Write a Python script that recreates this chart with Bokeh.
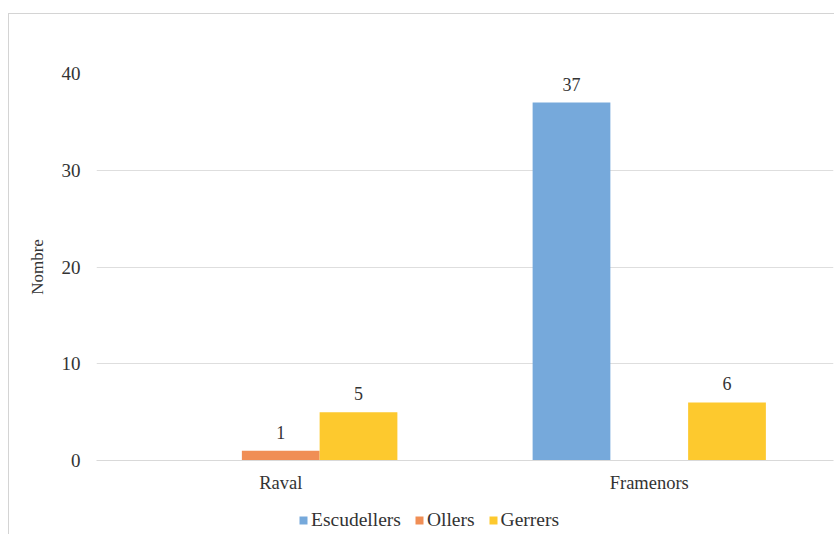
from bokeh.plotting import figure
from bokeh.layouts import column
from bokeh.models import FactorRange, Range1d, ColumnDataSource, Legend, LegendItem, FixedTicker
from bokeh.transform import dodge
from bokeh.embed import file_html
from bokeh.resources import INLINE
from bokeh.core.properties import value

categories = ["Raval", "Framenors"]
series_names = ["Escudellers", "Ollers", "Gerrers"]
escudellers = [0, 37]
ollers = [1, 0]
gerrers = [5, 6]
y_ticks = [0, 10, 20, 30, 40]
colors = ["#76A9DB", "#F08E55", "#FDC92E"]
y_label = "Nombre"

FONT = "Liberation Serif"
TEXT = "#333333"
BORDER = "1px solid #d4d4d4"

series_vals = [escudellers, ollers, gerrers]
data = dict(cat=categories)
for name, vals in zip(series_names, series_vals):
    data[name] = vals
    data[name + "_lbl"] = [str(v) if v else "" for v in vals]
src = ColumnDataSource(data)

p = figure(
    x_range=FactorRange(*categories, range_padding=0),
    y_range=Range1d(0, 40),
    width=826, height=481,
    output_backend="svg", toolbar_location=None,
    min_border_left=87, min_border_right=2, min_border_top=59, min_border_bottom=27,
)
p.outline_line_color = None
p.background_fill_color = "white"
p.border_fill_color = "white"

bw = 0.211
offsets = [-bw, 0.0, bw]
for name, off, col in zip(series_names, offsets, colors):
    p.vbar(x=dodge("cat", off, range=p.x_range), top=name, width=bw, source=src,
           fill_color=col, line_color=None)
    p.text(x=dodge("cat", off, range=p.x_range), y=name, text=name + "_lbl", source=src,
           text_align="center", text_baseline="bottom", y_offset=-12,
           text_font=value(FONT), text_font_size="18px", text_color=TEXT)

p.yaxis.ticker = FixedTicker(ticks=y_ticks)
p.yaxis.axis_line_color = None
p.yaxis.major_tick_line_color = None
p.yaxis.minor_tick_line_color = None
p.yaxis.major_label_standoff = 10
p.yaxis.major_label_text_font = FONT
p.yaxis.major_label_text_font_size = "19px"
p.yaxis.major_label_text_color = TEXT
p.yaxis.axis_label = y_label
p.yaxis.axis_label_text_font = FONT
p.yaxis.axis_label_text_font_size = "17px"
p.yaxis.axis_label_text_font_style = "normal"
p.yaxis.axis_label_text_color = TEXT
p.yaxis.axis_label_standoff = 12

p.xaxis.axis_line_color = "#d9d9d9"
p.xaxis.major_tick_line_color = None
p.xaxis.minor_tick_line_color = None
p.xaxis.major_label_standoff = 6
p.xaxis.major_label_text_font = FONT
p.xaxis.major_label_text_font_size = "18.5px"
p.xaxis.major_label_text_color = TEXT

p.xgrid.grid_line_color = None
p.ygrid.grid_line_color = "#dedede"

# legend strip below the chart (zero-size swatch renderers only feed the legend)
lg = figure(
    x_range=Range1d(0, 1), y_range=Range1d(0, 1),
    width=826, height=40,
    output_backend="svg", toolbar_location=None,
    min_border=0, x_axis_type=None, y_axis_type=None,
)
lg.outline_line_color = None
lg.grid.visible = False
items = []
for name, col in zip(series_names, colors):
    r = lg.vbar(x=[0.5], top=[0], bottom=[0], width=0, fill_color=col, line_color=None)
    items.append(LegendItem(label=name, renderers=[r]))
legend = Legend(items=items, orientation="horizontal", location=(202, 4),
                margin=0, padding=0, spacing=13, label_standoff=3,
                glyph_width=10, glyph_height=10,
                label_text_font=FONT, label_text_font_size="19.5px", label_text_color=TEXT,
                border_line_color=None, background_fill_alpha=0)
lg.add_layout(legend, "center")

layout = column(p, lg, spacing=0,
                styles={"border-top": BORDER, "border-left": BORDER,
                        "margin-top": "13px", "margin-left": "8px"})

open("out.html", "w").write(file_html(layout, INLINE))
